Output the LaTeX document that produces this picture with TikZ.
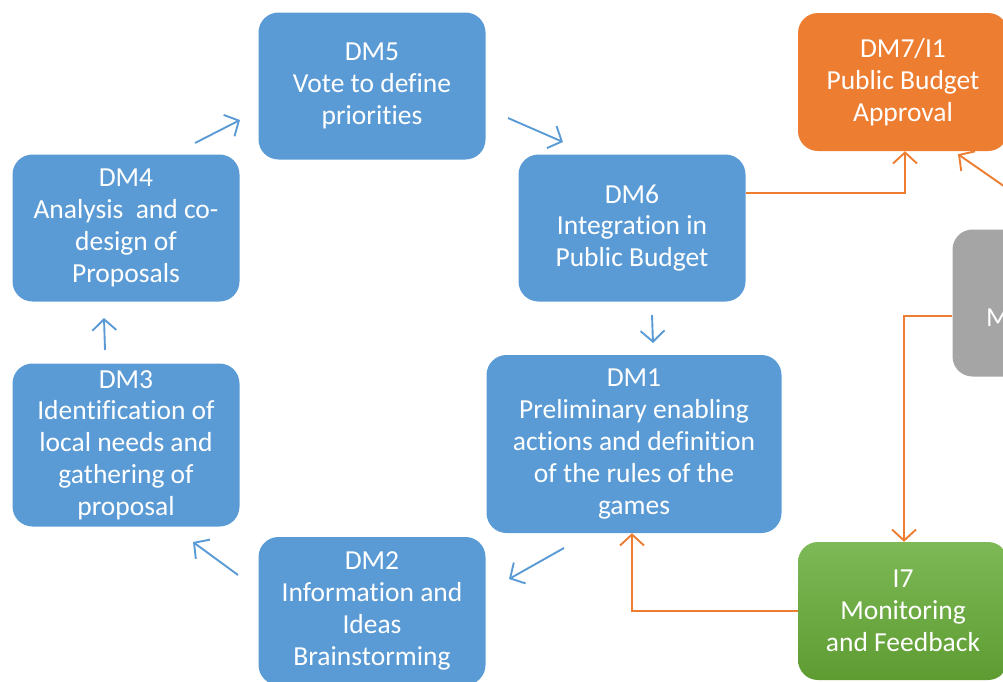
\documentclass[tikz,border=0pt]{standalone}
\usepackage{fontspec}
\setmainfont{Carlito}[Ligatures=NoCommon]
\usepackage{tikz}
\usetikzlibrary{arrows.meta}
\definecolor{dmblue}{HTML}{5B9BD5}
\definecolor{dmorange}{HTML}{ED7D31}
\definecolor{dmgrey}{HTML}{A5A5A5}
\definecolor{dmgreentop}{HTML}{7DB956}
\definecolor{dmgreenbot}{HTML}{5E9C32}

\begin{document}
\begin{tikzpicture}[x=1pt, y=-1pt]
    \tikzstyle{stage} = [rectangle, rounded corners=20pt, fill=dmblue, text=white, align=center, inner sep=0pt, minimum width=227pt, minimum height=147pt, font=\fontsize{27.5}{31.8}\selectfont]
    \tikzstyle{flow} = [draw=dmblue, line width=1.9pt, -{Straight Barb[length=11pt, width=24pt]}]
    \tikzstyle{feed} = [draw=dmorange, line width=1.9pt, -{Straight Barb[length=11pt, width=24pt]}]
    \clip (0,0) rectangle (1003,681);
    % decision-making cycle
    \node[stage] (dm5) at (372,86) {DM5\\Vote to define\\priorities};
    \node[stage] (dm4) at (126,228) {DM4\\Analysis\ \ and co-\\design of\\Proposals};
    \node[stage] (dm6) at (632,228) {DM6\\Integration in\\Public Budget};
    \node[stage, minimum height=163pt] (dm3) at (126,445) {DM3\\Identification of\\local needs and\\gathering of\\proposal};
    \node[stage, minimum width=295pt, minimum height=178pt] (dm1) at (634,444) {DM1\\Preliminary enabling\\actions and definition\\of the rules of the\\games};
    \node[stage, minimum height=148pt] (dm2) at (372,611) {DM2\\Information and\\Ideas\\Brainstorming};
    % implementation side
    \node[stage, fill=dmorange, minimum width=210pt, minimum height=138pt] (dm7) at (903,82) {DM7/I1\\Public Budget\\Approval};
    \node[stage, fill=dmgrey] (grey) at (1066,303) {};
    \node[anchor=west, inner sep=0pt, text=white, font=\fontsize{27.5}{31.8}\selectfont] (greytxt) at (986,318) {M};
    \node[stage, fill=none, top color=dmgreentop, bottom color=dmgreenbot, minimum width=210pt, minimum height=138pt] (i7) at (903,611) {I7\\Monitoring\\and Feedback};
    % cycle arrows
    \coordinate (a45) at (195,143); \coordinate (b45) at (240,120);
    \coordinate (a56) at (508,118); \coordinate (b56) at (563,142);
    \coordinate (a61) at (652,315); \coordinate (b61) at (653,343);
    \coordinate (a12) at (564,548); \coordinate (b12) at (509,579);
    \coordinate (a23) at (238,575); \coordinate (b23) at (193,542);
    \coordinate (a34) at (105,350); \coordinate (b34) at (104,318);
    \draw[flow] (a45) -- (b45);
    \draw[flow] (a56) -- (b56);
    \draw[flow] (a61) -- (b61);
    \draw[flow] (a12) -- (b12);
    \draw[flow] (a23) -- (b23);
    \draw[flow] (a34) -- (b34);
    % feedback arrows
    \draw[feed] ([yshift=35pt]dm6.east) -| ([xshift=2pt]dm7.south);
    \draw[feed] (grey.north) -- ([xshift=55pt, yshift=-3pt]dm7.south);
    \draw[feed] ([yshift=-13pt]grey.west) -| ([xshift=1pt]i7.north);
    \draw[feed] (i7.west) -| ([xshift=-2pt]dm1.south);
\end{tikzpicture}
\end{document}
